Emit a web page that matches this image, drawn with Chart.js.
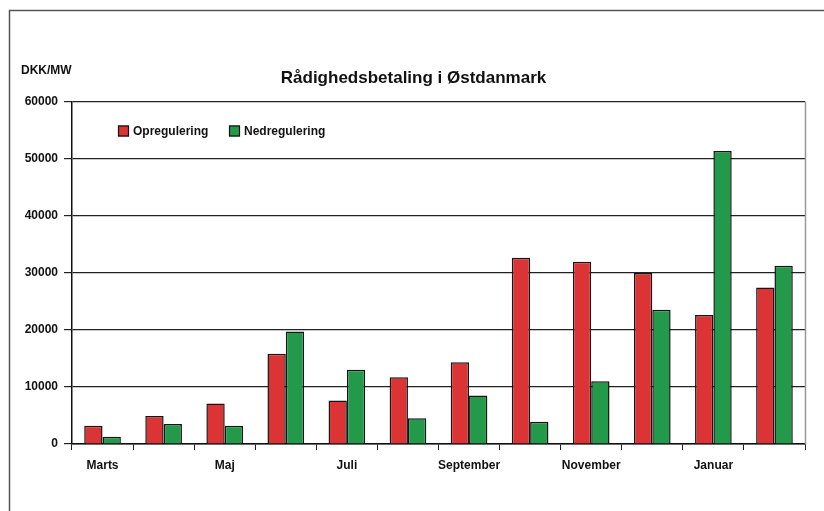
<!DOCTYPE html>
<html>
<head>
<meta charset="utf-8">
<script src="https://cdn.jsdelivr.net/npm/chart.js@4/dist/chart.umd.min.js"></script>
<style>
html,body{margin:0;padding:0;background:#fff;}
#wrap{position:relative;width:824px;height:511px;}
</style>
</head>
<body>
<div id="wrap"><canvas id="c" width="824" height="511"></canvas></div>
<script>
const categories = ["Marts","April","Maj","Juni","Juli","August","September","Oktober","November","December","Januar","Februar"];
const shownLabels = ["Marts","Maj","Juli","September","November","Januar"];
const opregulering = [3200, 4900, 7100, 15800, 7600, 11700, 14300, 32600, 31900, 29950, 22600, 27400];
const nedregulering = [1250, 3500, 3200, 19700, 13000, 4500, 8500, 3900, 11000, 23500, 51300, 31200];
const yTicks = [0, 10000, 20000, 30000, 40000, 50000, 60000];
const titleText = "Rådighedsbetaling i Østdanmark";
const unitText = "DKK/MW";

const FONT = "'Liberation Sans', Arial, sans-serif";

const decor = {
  id: 'decor',
  beforeDraw(chart) {
    const ctx = chart.ctx;
    ctx.save();
    ctx.fillStyle = '#fff';
    ctx.fillRect(0, 0, chart.width, chart.height);
    ctx.strokeStyle = '#555';
    ctx.lineWidth = 1.5;
    ctx.strokeRect(9.5, 10.5, 840, 540);
    ctx.restore();
  },
  afterDraw(chart) {
    const ctx = chart.ctx;
    const a = chart.chartArea;
    ctx.save();
    ctx.strokeStyle = '#999';
    ctx.lineWidth = 1.5;
    ctx.beginPath();
    ctx.moveTo(a.right + 0.5, a.top);
    ctx.lineTo(a.right + 0.5, a.bottom);
    ctx.stroke();
    ctx.fillStyle = '#111';
    ctx.font = "bold 12px " + FONT;
    ctx.textBaseline = 'middle';
    ctx.textAlign = 'left';
    ctx.fillText(unitText, 21, 71);
    const items = chart.data.datasets;
    const xs = [118, 229];
    items.forEach((ds, i) => {
      const x = xs[i], y = 131;
      ctx.fillStyle = ds.backgroundColor;
      ctx.fillRect(x, y - 5.5, 11, 11);
      ctx.strokeStyle = '#111';
      ctx.lineWidth = 1.2;
      ctx.strokeRect(x + 0.5, y - 5, 10, 10);
      ctx.fillStyle = '#111';
      ctx.font = "bold 12px " + FONT;
      ctx.fillText(ds.label, x + 15, y + 0.5);
    });
    ctx.restore();
  }
};

new Chart(document.getElementById('c'), {
  type: 'bar',
  data: {
    labels: categories,
    datasets: [
      { label: 'Opregulering', data: opregulering, backgroundColor: '#dc3434', borderColor: '#151515', borderWidth: 1.5 },
      { label: 'Nedregulering', data: nedregulering, backgroundColor: '#229a4a', borderColor: '#151515', borderWidth: 1.5 }
    ]
  },
  options: {
    responsive: false,
    animation: false,
    devicePixelRatio: 1,
    layout: { padding: { top: 5, left: 22, right: 19, bottom: 0 } },
    datasets: { bar: { categoryPercentage: 0.6, barPercentage: 1.0 } },
    plugins: {
      legend: { display: false },
      tooltip: { enabled: false },
      title: {
        display: true,
        text: titleText,
        color: '#111',
        font: { family: FONT, size: 17, weight: 'bold' },
        padding: { top: 63, bottom: 13 }
      }
    },
    scales: {
      x: {
        offset: true,
        grid: { display: true, drawOnChartArea: false, drawTicks: true, tickLength: 6, color: '#222', offset: true },
        border: { display: true, color: '#111', width: 1.5 },
        ticks: {
          autoSkip: false, maxRotation: 0, padding: 8, color: '#111',
          font: { family: FONT, size: 12, weight: 'bold' },
          callback: function(v, i) { const l = categories[i]; return shownLabels.includes(l) ? l : ''; }
        },
        afterFit(scale) { scale.height = 67; }
      },
      y: {
        min: 0, max: 60000,
        afterBuildTicks(scale) { scale.ticks = yTicks.map(v => ({ value: v })); },
        grid: { color: '#222', lineWidth: 1.2, tickLength: 8, drawTicks: true },
        border: { display: true, color: '#111', width: 1.5 },
        ticks: {
          padding: 6, color: '#111',
          font: { family: FONT, size: 12, weight: 'bold' },
          callback: v => String(v)
        },
        afterFit(scale) { scale.width = 50; }
      }
    }
  },
  plugins: [decor]
});
</script>
</body>
</html>
